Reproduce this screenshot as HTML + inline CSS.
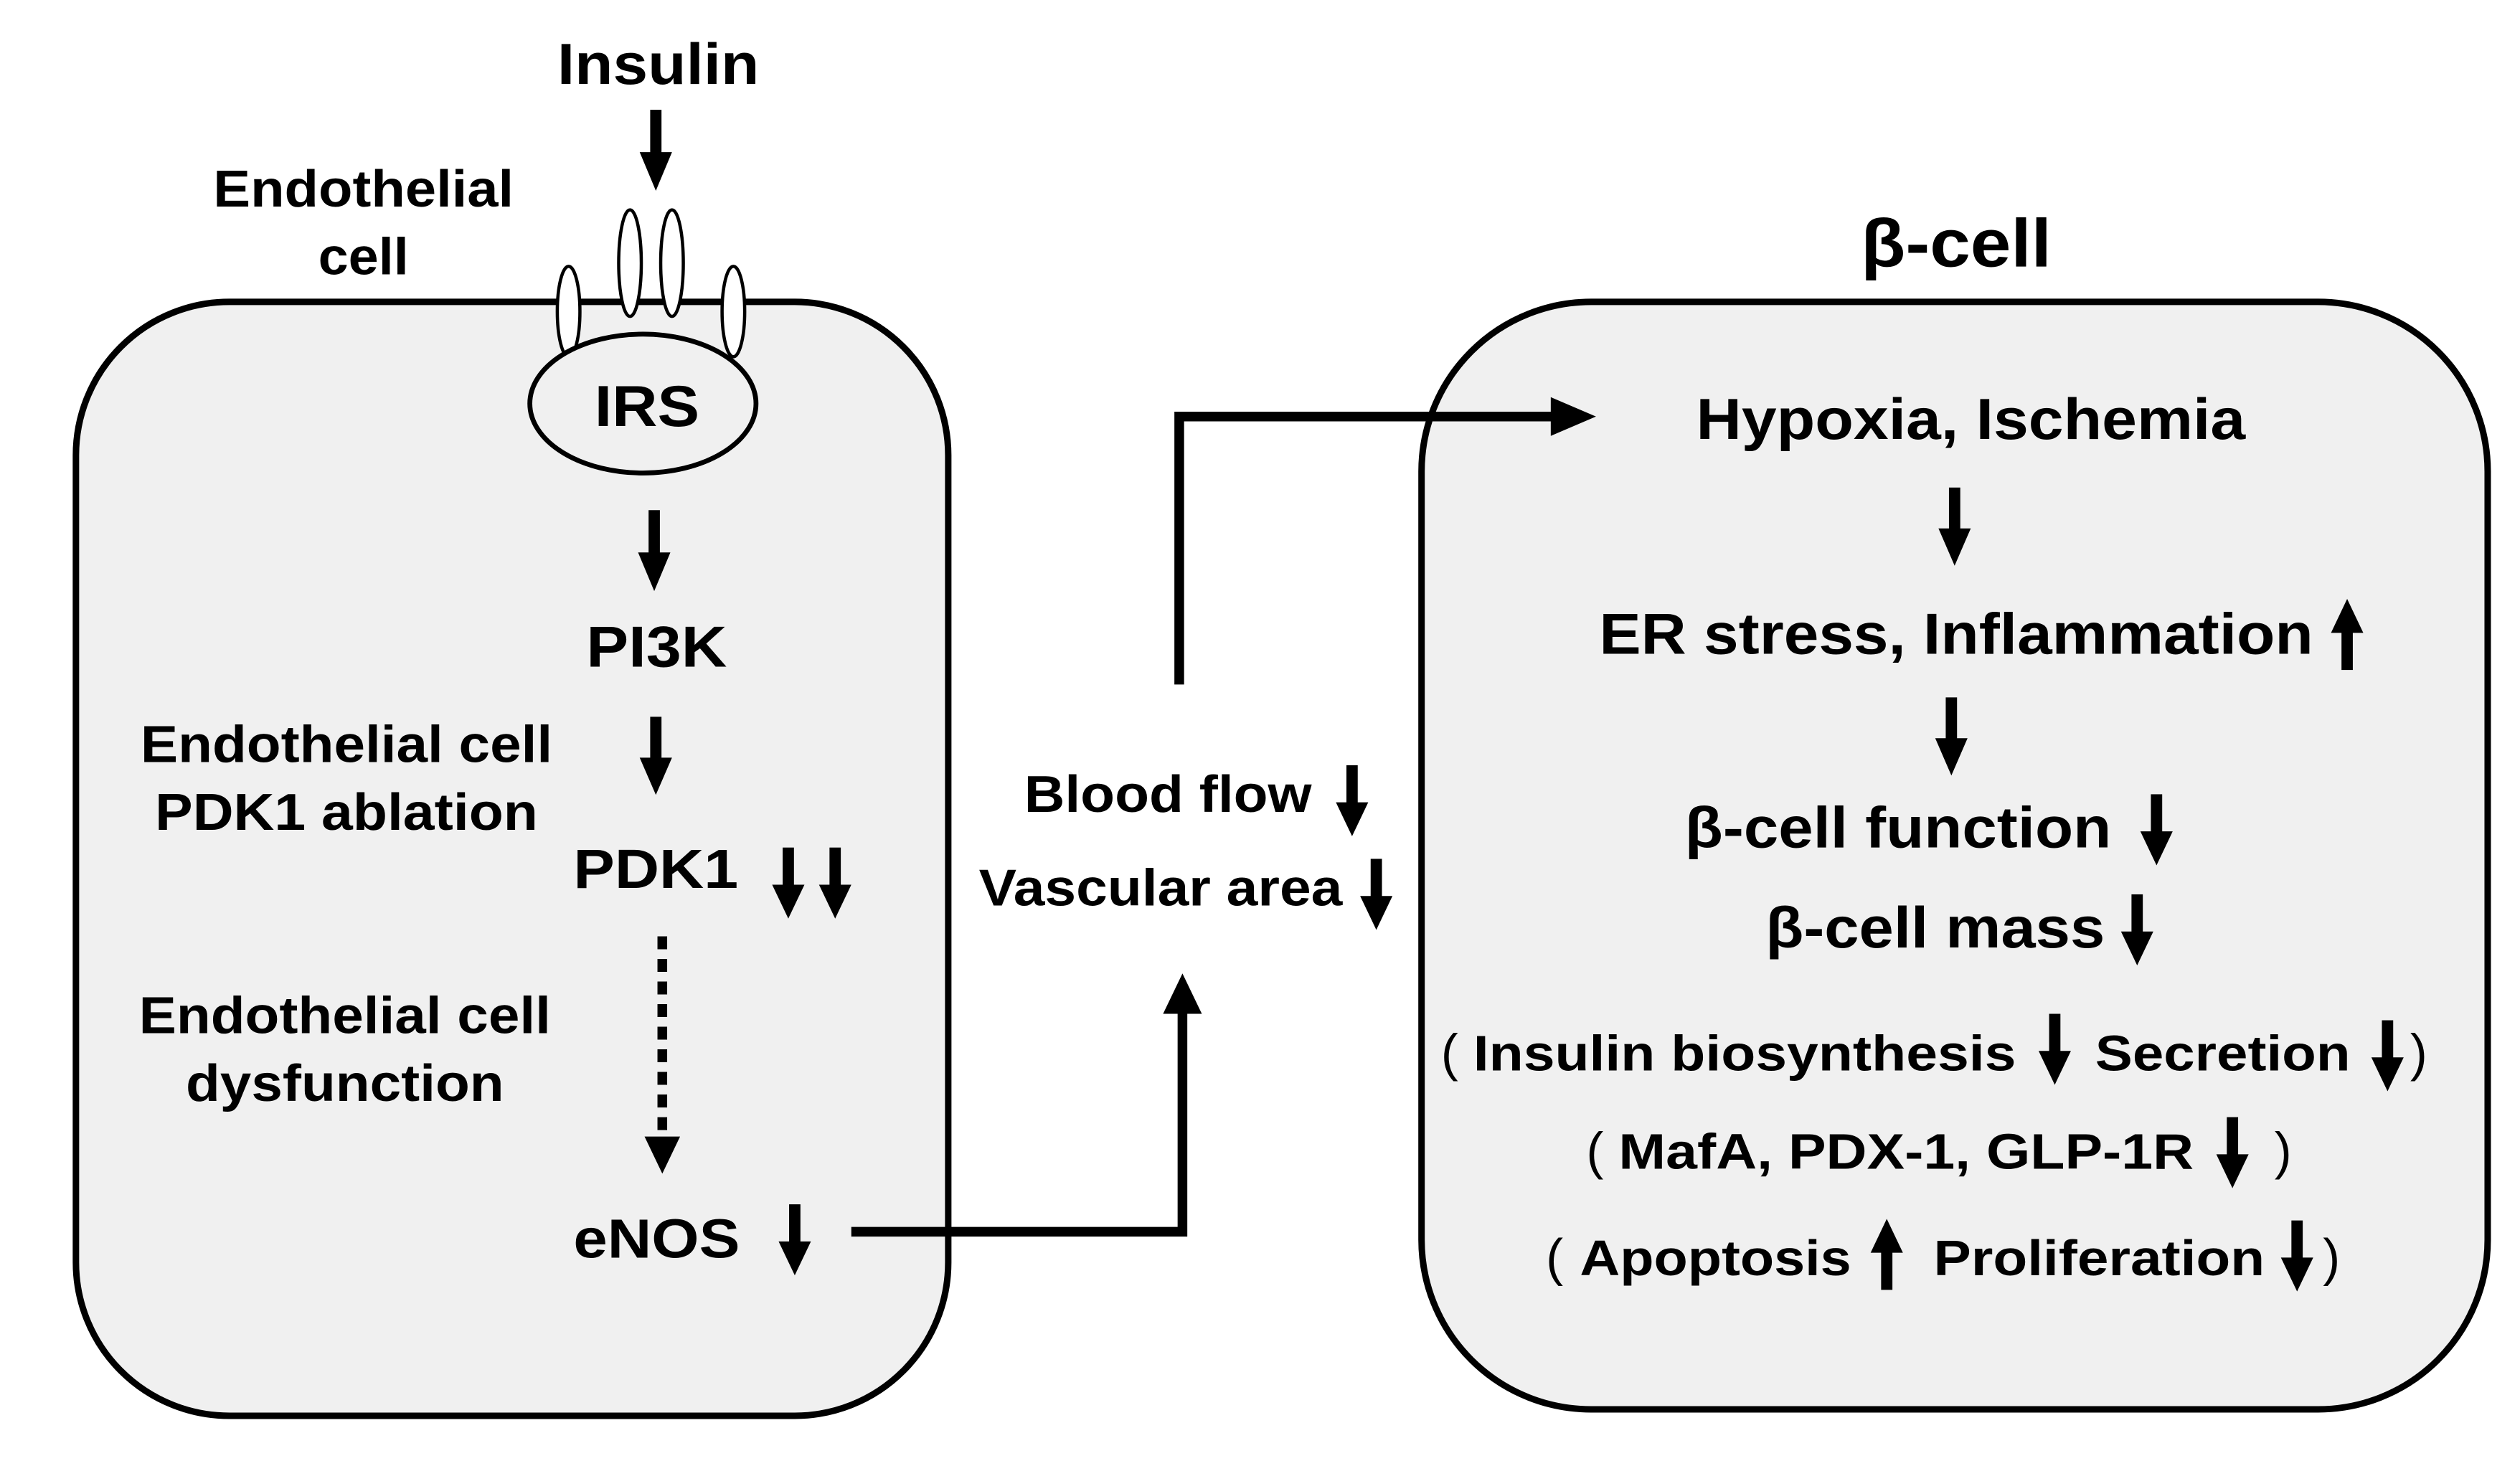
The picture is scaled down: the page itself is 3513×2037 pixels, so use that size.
<!DOCTYPE html>
<html><head><meta charset="utf-8"><style>
html,body{margin:0;padding:0;background:#fff}
svg{display:block}
text{font-family:"Liberation Sans",Arial,sans-serif;font-weight:bold;fill:#000}
.p{font-weight:normal}
</style></head><body>
<svg width="3513" height="2037" viewBox="0 0 1560 905" preserveAspectRatio="none" xmlns="http://www.w3.org/2000/svg">
<defs>
<g id="d"><rect x="-3.5" y="0" width="7" height="26"/><polygon points="-10,23 10,23 0,44"/></g>
<g id="u"><polygon points="-10,21 10,21 0,0"/><rect x="-3.5" y="18" width="7" height="26"/></g>
</defs>
<rect x="47" y="187" width="540" height="690" rx="95" fill="#f0f0f0" stroke="#000" stroke-width="4"/>
<rect x="880" y="187" width="660" height="686" rx="105" fill="#f0f0f0" stroke="#000" stroke-width="4"/>

<text x="345" y="52" font-size="36" textLength="125" lengthAdjust="spacingAndGlyphs">Insulin</text>
<use href="#d" transform="translate(406,68) scale(1,1.14)"/>
<text x="132" y="128" font-size="32" textLength="186" lengthAdjust="spacingAndGlyphs">Endothelial</text>
<text x="197" y="170" font-size="32" textLength="56" lengthAdjust="spacingAndGlyphs">cell</text>

<ellipse cx="352" cy="193" rx="7" ry="28" fill="#fff" stroke="#000" stroke-width="2"/>
<ellipse cx="390" cy="163" rx="7" ry="33" fill="#fff" stroke="#000" stroke-width="2"/>
<ellipse cx="416" cy="163" rx="7" ry="33" fill="#fff" stroke="#000" stroke-width="2"/>
<ellipse cx="454" cy="193" rx="7" ry="28" fill="#fff" stroke="#000" stroke-width="2"/>
<ellipse cx="398" cy="250" rx="70" ry="43" fill="#f0f0f0" stroke="#000" stroke-width="3"/>
<text x="368" y="264" font-size="36" textLength="65" lengthAdjust="spacingAndGlyphs">IRS</text>

<use href="#d" transform="translate(405,316) scale(1,1.14)"/>
<text x="363" y="413" font-size="36" textLength="87" lengthAdjust="spacingAndGlyphs">PI3K</text>
<text x="87" y="472" font-size="32" textLength="255" lengthAdjust="spacingAndGlyphs">Endothelial cell</text>
<text x="96" y="514" font-size="32" textLength="237" lengthAdjust="spacingAndGlyphs">PDK1 ablation</text>
<use href="#d" transform="translate(406,444) scale(1,1.1)"/>
<text x="355" y="550" font-size="34" textLength="102" lengthAdjust="spacingAndGlyphs">PDK1</text>
<use href="#d" transform="translate(488,525)"/>
<use href="#d" transform="translate(517,525)"/>
<line x1="410" y1="580" x2="410" y2="705" stroke="#000" stroke-width="6" stroke-dasharray="8,6"/>
<polygon points="399,704 421,704 410,727"/>
<text x="86" y="640" font-size="32" textLength="255" lengthAdjust="spacingAndGlyphs">Endothelial cell</text>
<text x="115" y="682" font-size="32" textLength="197" lengthAdjust="spacingAndGlyphs">dysfunction</text>
<text x="355" y="779" font-size="34" textLength="103" lengthAdjust="spacingAndGlyphs">eNOS</text>
<use href="#d" transform="translate(492,746)"/>

<polyline points="527,763 732,763 732,625" fill="none" stroke="#000" stroke-width="6"/>
<polygon points="720,628 744,628 732,603"/>
<polyline points="730,424 730,258 962,258" fill="none" stroke="#000" stroke-width="6"/>
<polygon points="960,246 960,270 988,258"/>

<text x="634" y="503" font-size="32" textLength="178" lengthAdjust="spacingAndGlyphs">Blood flow</text>
<use href="#d" transform="translate(837,474)"/>
<text x="606" y="561" font-size="32" textLength="225" lengthAdjust="spacingAndGlyphs">Vascular area</text>
<use href="#d" transform="translate(852,532)"/>

<text x="1152" y="165" font-size="42" textLength="118" lengthAdjust="spacingAndGlyphs">β-cell</text>
<text x="1050" y="272" font-size="36" textLength="340" lengthAdjust="spacingAndGlyphs">Hypoxia, Ischemia</text>
<use href="#d" transform="translate(1210,302) scale(1,1.1)"/>
<text x="990" y="405" font-size="36" textLength="442" lengthAdjust="spacingAndGlyphs">ER stress, Inflammation</text>
<use href="#u" transform="translate(1453,371)"/>
<use href="#d" transform="translate(1208,432) scale(1,1.1)"/>
<text x="1043" y="525" font-size="36" textLength="264" lengthAdjust="spacingAndGlyphs">β-cell function</text>
<use href="#d" transform="translate(1335,492)"/>
<text x="1093" y="587" font-size="36" textLength="210" lengthAdjust="spacingAndGlyphs">β-cell mass</text>
<use href="#d" transform="translate(1323,554)"/>

<text class="p" x="892" y="663" font-size="32">(</text>
<text x="912" y="663" font-size="31" textLength="336" lengthAdjust="spacingAndGlyphs">Insulin biosynthesis</text>
<use href="#d" transform="translate(1272,628)"/>
<text x="1297" y="663" font-size="31" textLength="158" lengthAdjust="spacingAndGlyphs">Secretion</text>
<use href="#d" transform="translate(1478,632)"/>
<text class="p" x="1492" y="663" font-size="32">)</text>
<text class="p" x="982" y="724" font-size="32">(</text>
<text x="1002" y="724" font-size="31" textLength="356" lengthAdjust="spacingAndGlyphs">MafA, PDX-1, GLP-1R</text>
<use href="#d" transform="translate(1382,692)"/>
<text class="p" x="1408" y="724" font-size="32">)</text>
<text class="p" x="957" y="790" font-size="32">(</text>
<text x="978" y="790" font-size="31" textLength="168" lengthAdjust="spacingAndGlyphs">Apoptosis</text>
<use href="#u" transform="translate(1168,755)"/>
<text x="1197" y="790" font-size="31" textLength="205" lengthAdjust="spacingAndGlyphs">Proliferation</text>
<use href="#d" transform="translate(1422,756)"/>
<text class="p" x="1438" y="790" font-size="32">)</text>
</svg>
</body></html>
